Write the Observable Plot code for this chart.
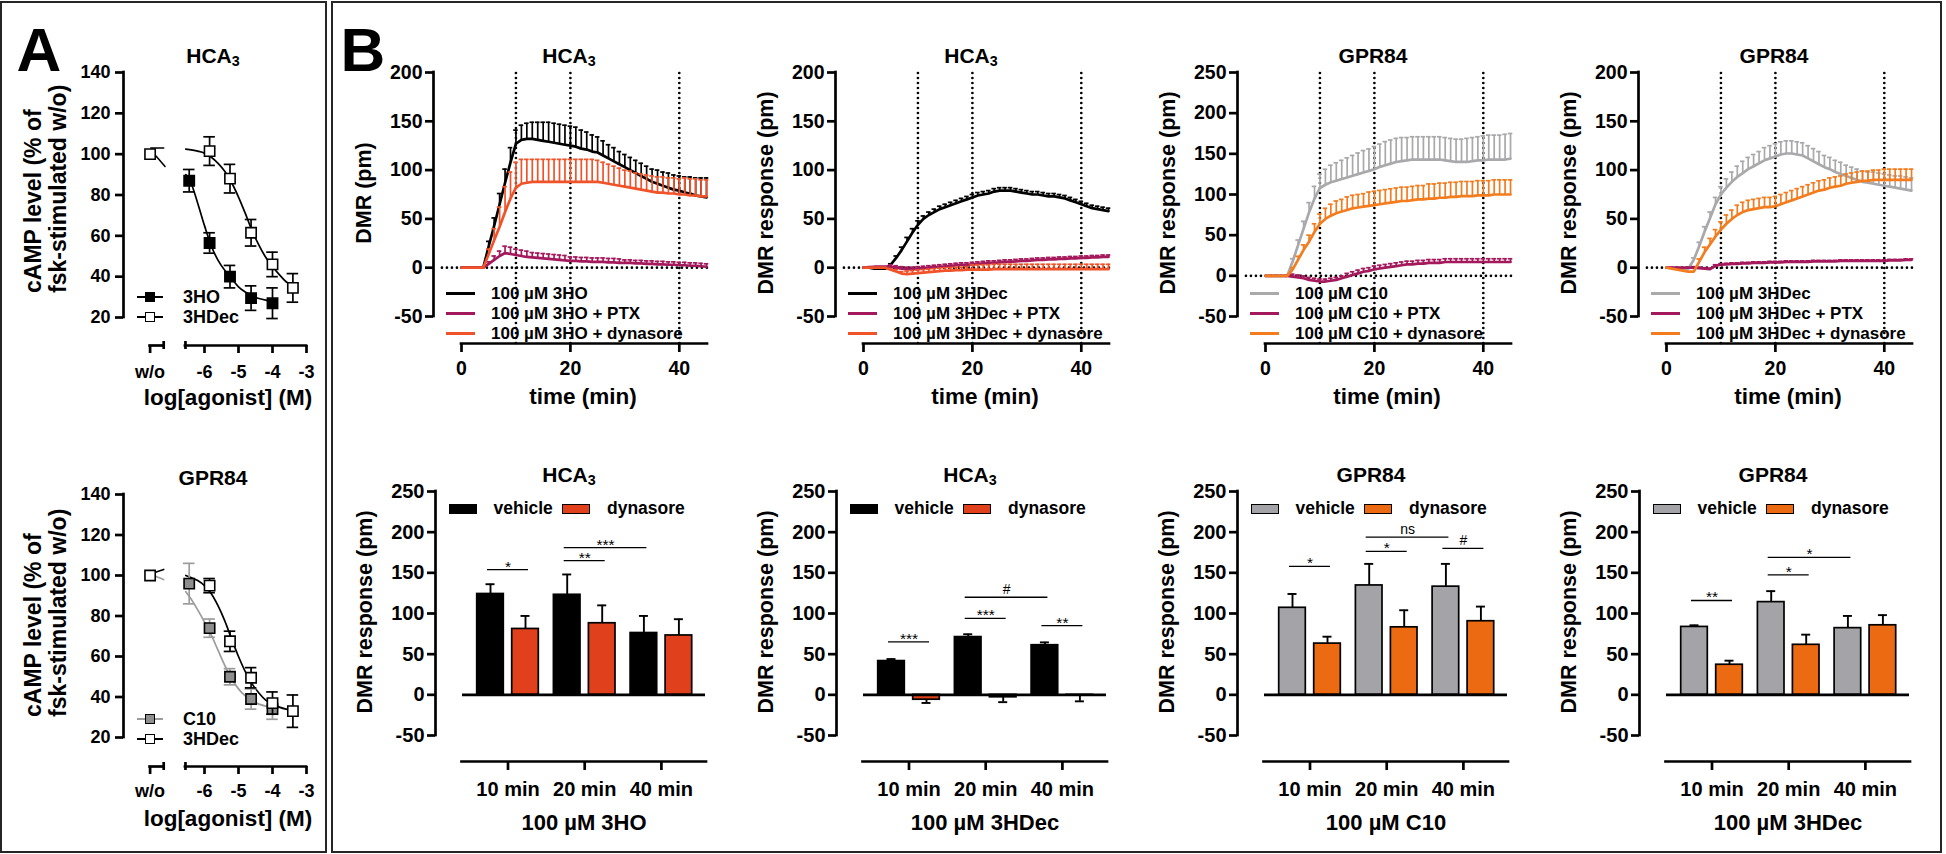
<!DOCTYPE html>
<html>
<head>
<meta charset="utf-8">
<script src="https://cdn.jsdelivr.net/npm/d3@7"></script>
<script src="https://cdn.jsdelivr.net/npm/@observablehq/plot@0.6"></script>
<style>
html,body{margin:0;padding:0;background:#fff;}
#page{position:relative;width:1946px;height:854px;overflow:hidden;background:#fff;font-family:"Liberation Sans",Arial,Helvetica,sans-serif;font-weight:bold;color:#000;}
.t{position:absolute;white-space:nowrap;line-height:1;}
</style>
</head>
<body>
<div id="page"></div>
<script>
// ===================== DATA =====================
// ---- Panel A: cAMP concentration-response (log M) ----
const woLog = -7.6;            // position used for the "w/o" point
const woValue = 100;
const doseTicks = [-6, -5, -4, -3];

const hca3_3HO_logC = [-6.45, -5.85, -5.25, -4.63, -4.0];
const hca3_3HO_cAMP = [87, 56.5, 40, 29.5, 27];
const hca3_3HO_cAMP_err = [5.5, 5, 5.5, 6, 7.5];
const hca3_3HDec_logC = [-5.85, -5.25, -4.63, -4.0, -3.4];
const hca3_3HDec_cAMP = [101.5, 88, 61.5, 46, 34.5];
const hca3_3HDec_cAMP_err = [7, 7, 6.5, 6, 7];
const hca3_3HO_fitX = [-6.55, -6.4, -6.2, -6.0, -5.8, -5.6, -5.4, -5.2, -5.0, -4.8, -4.6, -4.4, -4.2, -4.0];
const hca3_3HO_fitY = [90, 86, 76, 65, 55, 48, 43, 39, 35, 32.5, 30.5, 29.3, 28.5, 28];
const hca3_3HDec_fitX = [-6.55, -6.2, -6.0, -5.8, -5.6, -5.4, -5.2, -5.0, -4.8, -4.6, -4.4, -4.2, -4.0, -3.8, -3.6, -3.4];
const hca3_3HDec_fitY = [102.5, 101.5, 100.5, 98.5, 95.5, 91.5, 86, 79, 71, 62.5, 55.5, 49.5, 45, 41, 37.5, 35.5];
const hca3_woFitA_x = [-7.58, -7.2], hca3_woFitA_y = [103, 103];
const hca3_woFitB_x = [-7.42, -7.16], hca3_woFitB_y = [99, 94];

const gpr84_C10_logC = [-6.45, -5.85, -5.25, -4.63, -4.0];
const gpr84_C10_cAMP = [96, 74, 50, 39, 34];
const gpr84_C10_cAMP_err = [10, 4.5, 4, 5, 5];
const gpr84_3HDec_logC = [-5.85, -5.25, -4.63, -4.0, -3.4];
const gpr84_3HDec_cAMP = [95, 67.5, 49.5, 37, 33];
const gpr84_3HDec_cAMP_err = [3.5, 5, 5, 5.5, 8];
const gpr84_C10_fitX = [-6.55, -6.4, -6.2, -6.0, -5.8, -5.6, -5.4, -5.2, -5.0, -4.8, -4.6, -4.4, -4.2, -4.0];
const gpr84_C10_fitY = [92, 88.5, 83, 77, 70.5, 63, 55.5, 49, 44, 40.5, 38, 36.5, 35.5, 35];
const gpr84_3HDec_fitX = [-6.55, -6.4, -6.2, -6.0, -5.8, -5.6, -5.4, -5.2, -5.0, -4.8, -4.6, -4.4, -4.2, -4.0, -3.8, -3.6, -3.4];
const gpr84_3HDec_fitY = [100, 99, 97.5, 95, 91, 85, 77.5, 68.5, 60, 52.5, 46.5, 42, 38.5, 36.5, 35, 34, 33.5];
const gpr84_woFitA_x = [-7.55, -7.2], gpr84_woFitA_y = [101, 103];
const gpr84_woFitB_x = [-7.5, -7.2], gpr84_woFitB_y = [100, 98];

// ---- Panel B top: DMR time courses (min) ----
const timeMin = [0,1,2,3,4, 5,6,7,8,9, 10,11,12,13,14, 15,16,17,18,19, 20,21,22,23,24, 25,26,27,28,29, 30,31,32,33,34, 35,36,37,38,39, 40,41,42,43,44, 45];
const markerTimes = [10, 20, 40];

const hca3_3HO_mean = [0,0,0,0,0, 22,43,65,87,108, 127,131,132,132,131, 130,129,128,127,126, 125,124,122,121,119, 118,115,112,109,106, 103,100,97,94,91, 88,86,84,82,80, 79,77,76,74,73, 72];
const hca3_3HO_err  = [0,0,0,0,0, 5,8,11,14,15, 14,15,16,17,18, 19,20,20,20,20, 20,20,19,18,17, 16,15,14,14,13, 13,13,13,13,13, 13,14,14,15,15, 15,16,17,18,19, 20];
const hca3_3HO_ptx_mean = [0,0,0,0,0, 4,8,12,15,14, 13,12,11,10.5,10, 9.5,9,8.5,8,7.5, 7,7,6.5,6.5,6, 6,6,5.5,5.5,5, 5,5,4.5,4.5,4, 4,3.5,3.5,3,3, 2.5,2.5,2,2,1.5, 1];
const hca3_3HO_ptx_err  = [0,0,0,0,0, 2,4,5,7,7, 6,6,6,5,5, 5,5,5,5,5, 4,4,4,4,4, 4,4,4,4,4, 3,3,3,3,3, 3,3,3,3,3, 3,3,3,3,3, 3];
const hca3_3HO_dyn_mean = [0,0,0,0,0, 14,28,42,57,71, 82,86,87,88,88, 88,88,88,88,88, 88,88,88,88,88, 88,87,86,85,84, 83,82,81,80,79, 78,77,77,76,76, 75,75,74,74,73, 73];
const hca3_3HO_dyn_err  = [0,0,0,0,0, 5,12,20,26,27, 26,25,24,23,23, 23,23,23,23,23, 23,23,23,23,23, 22,21,20,19,18, 17,17,16,16,16, 16,16,16,16,16, 16,17,17,17,17, 17];

const hca3_3HDec_mean = [0,0,-1,-1,-1, 3,10,18,27,36, 44,50,54,57,60, 62,64,66,68,70, 72,74,75,76,78, 79,79,79,78,77, 76,75,75,74,73, 73,72,71,69,67, 65,63,61,60,59, 58];
const hca3_3HDec_err  = [0,0,0,0,0, 1,2,3,4,4, 4,3,3,3,3, 3,3,3,3,3, 3,3,3,3,3, 3,3,3,3,3, 3,3,3,3,3, 3,3,3,3,3, 3,3,3,3,3, 3];
const hca3_3HDec_ptx_mean = [0,0.5,1,1,1, 1,0,-1,-1.5,-1.5, -1,-0.5,0,0.5,1, 1.5,2,2.5,3,3, 3.5,4,4.5,5,5, 5.5,6,6,6.5,7, 7,7.5,8,8,8.5, 8.5,9,9,9.5,9.5, 10,10,10.5,10.5,11, 11];
const hca3_3HDec_ptx_err  = [0,0,0,0,0, 2,2,2,2,2, 2,2,2,2,2, 2,2,2,2,2, 2,2,2,2,2, 2,2,2,2,2, 2,2,2,2,2, 2,2,2,2,2, 2,2,2,2,2, 2];
const hca3_3HDec_dyn_mean = [0,0,0,0,0, -2,-4,-6,-6.5,-6, -5.5,-5,-4.5,-4,-3.5, -3,-3,-2.5,-2.5,-2, -2,-2,-2,-2,-1.5, -1.5,-1.5,-1.5,-1.5,-1.5, -1.5,-1.5,-1.5,-1.5,-1.5, -1.5,-1.5,-1.5,-1.5,-1.5, -1.5,-1.5,-1.5,-1.5,-1.5, -1.5];
const hca3_3HDec_dyn_err  = [0,0,0,0,0, 1,2,2,3,3, 3,3,3,3,3, 3,3,3,3,3, 5,5,5,5,5, 5,5,5,5,5, 5,5,5,5,5, 5,5,5,5,5, 5,5,5,5,5, 5];

const gpr84_C10_mean = [0,0,0,0,0, 18,38,58,78,95, 108,112,115,117,119, 121,123,125,127,129, 131,134,136,138,140, 141,142,143,143,143, 143,143,143,142,141, 140,140,140,141,142, 142,143,143,143,143, 144];
const gpr84_C10_err  = [0,0,0,0,0, 3,6,9,12,15, 17,19,21,22,23, 24,25,26,27,27, 28,28,29,29,29, 29,28,28,28,28, 28,28,28,28,28, 28,28,29,29,29, 30,30,30,30,31, 31];
const gpr84_C10_ptx_mean = [0,0,0,0,0, -1,-2,-3,-5,-6, -7,-7,-6,-5,-3, -1,1,3,5,6, 8,9,10,11,12, 13,14,14,15,15, 16,16,16,17,17, 17,17,17,17,17, 17,17,17,17,17, 17];
const gpr84_C10_ptx_err  = [0,0,0,0,0, 3,3,3,3,3, 3,3,3,3,3, 4,4,4,4,4, 4,4,4,4,4, 4,4,4,4,4, 4,4,4,4,4, 4,4,4,4,4, 4,4,4,4,4, 4];
const gpr84_C10_dyn_mean = [0,0,0,0,0, 8,20,32,42,54, 64,70,74,77,79, 81,83,84,85,86, 87,88,89,90,91, 92,92,93,94,94, 95,95,96,96,97, 97,98,98,98,99, 99,99,100,100,100, 100];
const gpr84_C10_dyn_err  = [0,0,0,0,0, 2,4,6,8,10, 12,13,14,15,15, 16,16,16,16,17, 17,17,17,17,17, 17,17,17,17,17, 18,18,18,18,18, 18,18,18,18,18, 18,18,18,18,18, 18];

const gpr84_3HDec_mean = [0,0,-1,-1,-1, 8,22,37,51,65, 75,82,88,93,97, 101,104,107,110,112, 114,116,117,117,116, 115,112,109,106,103, 101,98,96,94,92, 90,88,87,86,85, 84,83,82,81,80, 79];
const gpr84_3HDec_err  = [0,0,0,0,0, 2,4,5,6,7, 8,9,10,11,12, 12,12,12,13,13, 13,13,13,13,13, 13,13,13,13,12, 12,12,12,11,11, 11,11,11,12,12, 12,12,12,13,13, 13];
const gpr84_3HDec_ptx_mean = [0,0,0,0,0, 0,-0.5,-1,-1.5,2, 3,3.5,4,4,4.5, 4.5,5,5,5,5.5, 5.5,5.5,6,6,6, 6,6,6.5,6.5,6.5, 6.5,6.5,7,7,7, 7,7,7,7,7, 7,7.5,7.5,7.5,8, 8];
const gpr84_3HDec_ptx_err  = [0,0,0,0,0, 1,1,1,1,1, 1,1,1,1,1, 1,1,1,1,1, 1,1,1,1,1, 1,1,1,1,1, 1,1,1,1,1, 1,1,1,1,1, 1,1,1,1,1, 1];
const gpr84_3HDec_dyn_mean = [0,-1,-2,-3,-4, -4,6,16,24,32, 39,45,50,54,57, 59,60,61,62,62, 63,65,67,69,71, 73,75,77,79,80, 82,83,84,86,87, 88,89,89,90,90, 90,90,90,90,90, 90];
const gpr84_3HDec_dyn_err  = [0,0,0,0,0, 0,3,5,6,7, 8,9,9,10,10, 10,10,10,10,10, 10,10,10,10,10, 10,10,10,10,10, 10,10,10,10,10, 10,10,10,10,10, 11,11,11,11,11, 11];

// ---- Panel B bottom: DMR response at 10/20/40 min ----
const barTimes = ["10 min", "20 min", "40 min"];
const barHca3_3HO_vehicle = [124, 123, 76], barHca3_3HO_vehicle_err = [12, 25, 21];
const barHca3_3HO_dynasore = [81, 88, 73], barHca3_3HO_dynasore_err = [16, 22, 20];
const barHca3_3HDec_vehicle = [41.5, 71, 61], barHca3_3HDec_vehicle_err = [2.5, 3.5, 3.5];
const barHca3_3HDec_dynasore = [-6, -3, -1], barHca3_3HDec_dynasore_err = [4, 6, 7];
const barGpr84_C10_vehicle = [107, 134.5, 133], barGpr84_C10_vehicle_err = [17, 26.5, 28];
const barGpr84_C10_dynasore = [63, 83, 90.5], barGpr84_C10_dynasore_err = [8.5, 21, 18];
const barGpr84_3HDec_vehicle = [83.5, 114, 82], barGpr84_3HDec_vehicle_err = [2, 13.5, 15];
const barGpr84_3HDec_dynasore = [37, 61.5, 85.5], barGpr84_3HDec_dynasore_err = [5, 12.5, 12.5];

// significance brackets: [time index, group] -> [time index, group], height, label
const sigHca3_3HO = [
  {a: [0, "vehicle"], b: [0, "dynasore"], y: 154, label: "*"},
  {a: [1, "vehicle"], b: [1, "dynasore"], y: 165, label: "**"},
  {a: [1, "vehicle"], b: [2, "vehicle"], y: 181, label: "***"}
];
const sigHca3_3HDec = [
  {a: [0, "vehicle"], b: [0, "dynasore"], y: 65, label: "***"},
  {a: [1, "vehicle"], b: [1, "dynasore"], y: 94, label: "***"},
  {a: [1, "vehicle"], b: [2, "vehicle"], y: 120, label: "#"},
  {a: [2, "vehicle"], b: [2, "dynasore"], y: 85, label: "**"}
];
const sigGpr84_C10 = [
  {a: [0, "vehicle"], b: [0, "dynasore"], y: 158, label: "*"},
  {a: [1, "vehicle"], b: [1, "dynasore"], y: 176.5, label: "*"},
  {a: [1, "vehicle"], b: [2, "vehicle"], y: 194, label: "ns"},
  {a: [2, "vehicle"], b: [2, "dynasore"], y: 180, label: "#"}
];
const sigGpr84_3HDec = [
  {a: [0, "vehicle"], b: [0, "dynasore"], y: 116, label: "**"},
  {a: [1, "vehicle"], b: [1, "dynasore"], y: 147.5, label: "*"},
  {a: [1, "vehicle"], b: [2, "vehicle"], y: 169, label: "*"}
];

// ===================== STYLE / LAYOUT =====================
const page = document.getElementById("page");
const FONT = '"Liberation Sans", Arial, Helvetica, sans-serif';
const C = {
  black: "#000000", magenta: "#A3195B", redOrange: "#F0532A", redBar: "#E0401C",
  greyLine: "#A9A9AC", greyBar: "#A4A4A8", orangeLine: "#F27C1E", orangeBar: "#EB6A12",
  greyDot: "#8E8E8E", greyErr: "#9C9C9C"
};
const AXW = 2.7;

function text(html, x, y, size, o = {}) {
  const d = document.createElement("div");
  d.className = "t";
  d.style.fontSize = size + "px";
  d.style.left = x + "px";
  d.style.top = y + "px";
  d.style.fontWeight = o.weight || "bold";
  let tf = o.start ? "translate(0,-50%)" : "translate(-50%,-50%)";
  if (o.rotate) tf += " rotate(-90deg)";
  d.style.transform = tf;
  d.innerHTML = html;
  page.appendChild(d);
  return d;
}
function box(css) {
  const d = document.createElement("div");
  d.style.position = "absolute";
  Object.assign(d.style, css);
  page.appendChild(d);
  return d;
}
function place(svg, left, top, w) {
  const d = document.createElement("div");
  d.style.position = "absolute";
  d.style.left = left + "px";
  d.style.top = top + "px";
  d.style.width = w + "px";
  d.appendChild(svg);
  page.appendChild(d);
}
function basePlot(opts) {
  return Plot.plot(Object.assign({
    style: {fontFamily: FONT, fontWeight: "bold", background: "transparent", overflow: "visible", color: "#000"}
  }, opts));
}
const sub3 = 'HCA<span style="font-size:0.68em;position:relative;top:0.2em">3</span>';

// panel frames
box({left: "0px", top: "1px", width: "327px", height: "852px", border: "2px solid #262626", boxSizing: "border-box"});
box({left: "331px", top: "1px", width: "1611px", height: "852px", border: "2px solid #262626", boxSizing: "border-box"});
text("A", 39, 50, 62);
text("B", 363, 50, 62);

// ===================== PANEL A =====================
function dosePlot(ax, topPx, botPx, xAxisPx, sets, woFits, tickPad) {
  const ppx = 34, xm6 = 204;
  const xLo = -6 + (ax - xm6) / ppx, xHi = -3 + 3 / ppx;
  const ppu = (botPx - topPx) / 120;
  const yLo = 20 - (xAxisPx - botPx) / ppu;
  const mL = 60, mR = 10, mT = 12, mB = 45;
  const fw = (xm6 + 3 * ppx + 3) - ax;
  const W = mL + fw + mR, H = mT + (xAxisPx - topPx) + mB;
  const woSegEnd = -7.2, mainStart = -6.56;
  const marks = [];
  for (const f of woFits) {
    marks.push(Plot.line(f.x.map((x, i) => ({x, y: f.y[i]})), {x: "x", y: "y", stroke: f.color, strokeWidth: 1.6}));
  }
  for (const s of sets) {
    marks.push(Plot.line(s.fitX.map((x, i) => ({x, y: s.fitY[i]})), {x: "x", y: "y", stroke: s.line, strokeWidth: 1.7, curve: "monotone-x"}));
  }
  for (const s of sets) {
    const rows = s.x.map((x, i) => ({x, y: s.y[i], e: s.err[i]}));
    marks.push(
      Plot.ruleX(rows, {x: "x", y1: r => r.y - r.e, y2: r => r.y + r.e, stroke: s.errColor, strokeWidth: 1.7}),
      Plot.ruleY(rows, {y: r => r.y + r.e, x1: r => r.x - 0.17, x2: r => r.x + 0.17, stroke: s.errColor, strokeWidth: 1.7}),
      Plot.ruleY(rows, {y: r => r.y - r.e, x1: r => r.x - 0.17, x2: r => r.x + 0.17, stroke: s.errColor, strokeWidth: 1.7}),
      Plot.dot(rows, {x: "x", y: "y", symbol: "square", r: 5.8, fill: s.fill, stroke: "#000", strokeWidth: 1.6})
    );
  }
  marks.push(
    Plot.dot([{x: woLog, y: woValue}], {x: "x", y: "y", symbol: "square", r: 5.8, fill: "#fff", stroke: "#000", strokeWidth: 1.6}),
    Plot.ruleX([xLo], {y1: 20, y2: 140, strokeWidth: AXW, strokeLinecap: "square"}),
    Plot.ruleY([yLo], {x1: woLog, x2: woSegEnd, strokeWidth: AXW, strokeLinecap: "square"}),
    Plot.ruleY([yLo], {x1: mainStart, x2: -3, strokeWidth: AXW, strokeLinecap: "square"}),
    Plot.ruleX([woSegEnd, mainStart], {y1: yLo - 4 / ppu, y2: yLo + 4 / ppu, strokeWidth: AXW}),
    Plot.axisY({ticks: [20, 40, 60, 80, 100, 120, 140], tickFormat: d => String(d), tickSize: 8, tickPadding: 5, strokeWidth: AXW, fontSize: 18, fontWeight: "bold"}),
    Plot.axisX({ticks: [woLog, ...doseTicks], tickFormat: d => d === woLog ? "w/o" : String(d), tickSize: 8, tickPadding: tickPad, strokeWidth: AXW, fontSize: 18, fontWeight: "bold"})
  );
  const svg = basePlot({
    width: W, height: H, marginLeft: mL, marginRight: mR, marginTop: mT, marginBottom: mB,
    x: {domain: [xLo, xHi], label: null}, y: {domain: [yLo, 140], label: null},
    marks
  });
  place(svg, ax - mL, topPx - mT, W);
}

dosePlot(123, 72, 317, 345, [
  {x: hca3_3HO_logC, y: hca3_3HO_cAMP, err: hca3_3HO_cAMP_err, fitX: hca3_3HO_fitX, fitY: hca3_3HO_fitY, fill: "#000", line: "#000", errColor: "#000"},
  {x: hca3_3HDec_logC, y: hca3_3HDec_cAMP, err: hca3_3HDec_cAMP_err, fitX: hca3_3HDec_fitX, fitY: hca3_3HDec_fitY, fill: "#fff", line: "#000", errColor: "#000"}
], [
  {x: hca3_woFitA_x, y: hca3_woFitA_y, color: "#000"},
  {x: hca3_woFitB_x, y: hca3_woFitB_y, color: "#000"}
], 12);

dosePlot(123, 494, 737, 766, [
  {x: gpr84_C10_logC, y: gpr84_C10_cAMP, err: gpr84_C10_cAMP_err, fitX: gpr84_C10_fitX, fitY: gpr84_C10_fitY, fill: C.greyDot, line: C.greyErr, errColor: C.greyErr},
  {x: gpr84_3HDec_logC, y: gpr84_3HDec_cAMP, err: gpr84_3HDec_cAMP_err, fitX: gpr84_3HDec_fitX, fitY: gpr84_3HDec_fitY, fill: "#fff", line: "#000", errColor: "#000"}
], [
  {x: gpr84_woFitA_x, y: gpr84_woFitA_y, color: "#000"},
  {x: gpr84_woFitB_x, y: gpr84_woFitB_y, color: C.greyErr}
], 10);

// Panel A texts
text(sub3, 213, 55, 21);
text("GPR84", 213, 477, 21);
for (const startY of [293, 717]) {
  const d = document.createElement("div");
  d.className = "t";
  Object.assign(d.style, {left: "20.5px", top: startY + "px", fontSize: "23px", lineHeight: "25px", transformOrigin: "0 0", transform: "rotate(-90deg)", textAlign: "left"});
  d.innerHTML = "cAMP level (% of<br>fsk-stimulated w/o)";
  page.appendChild(d);
}
text("log[agonist] (M)", 228, 398, 22.5);
text("log[agonist] (M)", 228, 819, 22.5);
function doseLegend(y, label, fill, lineColor) {
  box({left: "137px", top: (y - 1) + "px", width: "26px", height: "2px", background: lineColor});
  box({left: "145px", top: (y - 5) + "px", width: "10px", height: "10px", background: fill, border: "1.6px solid #000", boxSizing: "border-box"});
  text(label, 183, y, 18, {start: true});
}
doseLegend(297, "3HO", "#000", "#000");
doseLegend(317, "3HDec", "#fff", "#000");
doseLegend(719, "C10", C.greyDot, C.greyErr);
doseLegend(739, "3HDec", "#fff", "#000");

// ===================== PANEL B TOP: time courses =====================
function timeCourse(ax, yMax, yTicks, series) {
  const topPx = 72, m50Px = 316, xAxisPx = 343;
  const ppu = (m50Px - topPx) / (yMax + 50);
  const yLo = -50 - (xAxisPx - m50Px) / ppu;
  const ppm = 5.445, zeroOff = 28, frameW = 274;
  const xLo = -zeroOff / ppm, xHi = (frameW - zeroOff) / ppm;
  const mL = 60, mR = 12, mT = 12, mB = 45;
  const W = mL + frameW + mR, H = mT + (xAxisPx - topPx) + mB;
  const dotted = {stroke: "#000", strokeWidth: 2.7, strokeDasharray: "0 5", strokeLinecap: "round"};
  const marks = [
    Plot.ruleX(markerTimes, {y1: yLo, y2: yMax, ...dotted}),
    Plot.ruleY([0], {x1: -3.5, x2: xHi, ...dotted})
  ];
  for (const s of series) {
    const rows = timeMin.map((t, i) => ({t, m: s.mean[i], e: s.err[i]}));
    const eb = rows.filter(r => r.e > 0);
    marks.push(
      Plot.ruleX(eb, {x: "t", y1: "m", y2: r => r.m + r.e, stroke: s.color, strokeWidth: 1.7}),
      Plot.ruleY(eb, {y: r => r.m + r.e, x1: r => r.t - 0.42, x2: r => r.t + 0.42, stroke: s.color, strokeWidth: 1.7}),
      Plot.line(rows, {x: "t", y: "m", stroke: s.color, strokeWidth: 2.7})
    );
  }
  marks.push(
    Plot.ruleX([xLo], {y1: -50, y2: yMax, strokeWidth: AXW, strokeLinecap: "square"}),
    Plot.ruleY([yLo], {x1: 0, x2: xHi, strokeWidth: AXW, strokeLinecap: "square"}),
    Plot.axisY({ticks: yTicks, tickFormat: d => String(d), tickSize: 8, tickPadding: 3, strokeWidth: AXW, fontSize: 19.5, fontWeight: "bold"}),
    Plot.axisX({ticks: [0, 20, 40], tickFormat: d => String(d), tickSize: 9, tickPadding: 9, strokeWidth: AXW, fontSize: 19.5, fontWeight: "bold"})
  );
  const svg = basePlot({
    width: W, height: H, marginLeft: mL, marginRight: mR, marginTop: mT, marginBottom: mB,
    x: {domain: [xLo, xHi], label: null}, y: {domain: [yLo, yMax], label: null},
    marks
  });
  place(svg, ax - mL, topPx - mT, W);
}

const timeAxes = [433, 835, 1237, 1638];
const ticks200 = [-50, 0, 50, 100, 150, 200];
const ticks250 = [-50, 0, 50, 100, 150, 200, 250];

timeCourse(timeAxes[0], 200, ticks200, [
  {mean: hca3_3HO_mean, err: hca3_3HO_err, color: C.black},
  {mean: hca3_3HO_ptx_mean, err: hca3_3HO_ptx_err, color: C.magenta},
  {mean: hca3_3HO_dyn_mean, err: hca3_3HO_dyn_err, color: C.redOrange}
]);
timeCourse(timeAxes[1], 200, ticks200, [
  {mean: hca3_3HDec_mean, err: hca3_3HDec_err, color: C.black},
  {mean: hca3_3HDec_ptx_mean, err: hca3_3HDec_ptx_err, color: C.magenta},
  {mean: hca3_3HDec_dyn_mean, err: hca3_3HDec_dyn_err, color: C.redOrange}
]);
timeCourse(timeAxes[2], 250, ticks250, [
  {mean: gpr84_C10_mean, err: gpr84_C10_err, color: C.greyLine},
  {mean: gpr84_C10_ptx_mean, err: gpr84_C10_ptx_err, color: C.magenta},
  {mean: gpr84_C10_dyn_mean, err: gpr84_C10_dyn_err, color: C.orangeLine}
]);
timeCourse(timeAxes[3], 200, ticks200, [
  {mean: gpr84_3HDec_mean, err: gpr84_3HDec_err, color: C.greyLine},
  {mean: gpr84_3HDec_ptx_mean, err: gpr84_3HDec_ptx_err, color: C.magenta},
  {mean: gpr84_3HDec_dyn_mean, err: gpr84_3HDec_dyn_err, color: C.orangeLine}
]);

const topTitles = [sub3, sub3, "GPR84", "GPR84"];
const topYLabels = ["DMR (pm)", "DMR response (pm)", "DMR response (pm)", "DMR response (pm)"];
const legendSets = [
  [["100 µM 3HO", C.black], ["100 µM 3HO + PTX", C.magenta], ["100 µM 3HO + dynasore", C.redOrange]],
  [["100 µM 3HDec", C.black], ["100 µM 3HDec + PTX", C.magenta], ["100 µM 3HDec + dynasore", C.redOrange]],
  [["100 µM C10", C.greyLine], ["100 µM C10 + PTX", C.magenta], ["100 µM C10 + dynasore", C.orangeLine]],
  [["100 µM 3HDec", C.greyLine], ["100 µM 3HDec + PTX", C.magenta], ["100 µM 3HDec + dynasore", C.orangeLine]]
];
timeAxes.forEach((ax, k) => {
  text(topTitles[k], ax + 136, 55, 21);
  text(topYLabels[k], ax - 68, 193, 21.5, {rotate: true});
  text("time (min)", ax + 150, 397, 22.5);
  legendSets[k].forEach(([lab, col], i) => {
    const y = 293 + 20 * i;
    box({left: (ax + 13) + "px", top: (y - 1.5) + "px", width: "29px", height: "3px", background: col});
    text(lab, ax + 58, y, 17, {start: true});
  });
});

// ===================== PANEL B BOTTOM: bar charts =====================
function barChart(ax, veh, vehErr, dyn, dynErr, vehColor, dynColor, sig) {
  const topPx = 491, m50Px = 735, xAxisPx = 761;
  const ppu = (m50Px - topPx) / 300;
  const yLo = -50 - (xAxisPx - m50Px) / ppu;
  const gpx = 76.7, g0 = 72.5, frameW = 275;
  const xLo = -g0 / gpx, xHi = (frameW - g0) / gpx;
  const off = 17.5 / gpx, hw = 13.3 / gpx, cap = 4.5 / gpx, ext = 3 / gpx;
  const mL = 60, mR = 12, mT = 12, mB = 45;
  const W = mL + frameW + mR, H = mT + (xAxisPx - topPx) + mB;
  const pos = ([i, c]) => i + (c === "vehicle" ? -off : off);
  const vRows = veh.map((m, i) => ({x: i - off, m, e: vehErr[i]}));
  const dRows = dyn.map((m, i) => ({x: i + off, m, e: dynErr[i]}));
  const all = vRows.concat(dRows);
  const tip = r => r.m + (r.m < 0 ? -r.e : r.e);
  const sRows = sig.map(s => ({x1: Math.min(pos(s.a), pos(s.b)) - ext, x2: Math.max(pos(s.a), pos(s.b)) + ext, y: s.y, label: s.label}));
  const marks = [
    Plot.ruleX(all, {x: "x", y1: "m", y2: tip, strokeWidth: 1.9}),
    Plot.ruleY(all, {y: tip, x1: r => r.x - cap, x2: r => r.x + cap, strokeWidth: 1.9}),
    Plot.rect(vRows, {x1: r => r.x - hw, x2: r => r.x + hw, y1: 0, y2: "m", fill: vehColor, stroke: "#000", strokeWidth: 1.7}),
    Plot.rect(dRows, {x1: r => r.x - hw, x2: r => r.x + hw, y1: 0, y2: "m", fill: dynColor, stroke: "#000", strokeWidth: 1.7}),
    Plot.ruleY([0], {x1: (27 - g0) / gpx, x2: (270 - g0) / gpx, strokeWidth: AXW}),
    Plot.ruleY(sRows, {y: "y", x1: "x1", x2: "x2", strokeWidth: 1.3}),
    Plot.text(sRows.filter(r => r.label.includes("*")), {x: r => (r.x1 + r.x2) / 2, y: "y", text: "label", dy: -3, fontSize: 15.5, fontWeight: "normal"}),
    Plot.text(sRows.filter(r => !r.label.includes("*")), {x: r => (r.x1 + r.x2) / 2, y: "y", text: "label", dy: -8, fontSize: 14, fontWeight: "normal"}),
    Plot.ruleX([xLo], {y1: -50, y2: 250, strokeWidth: AXW, strokeLinecap: "square"}),
    Plot.ruleY([yLo], {x1: (26.5 - g0) / gpx, x2: (271 - g0) / gpx, strokeWidth: AXW, strokeLinecap: "square"}),
    Plot.axisY({ticks: ticks250, tickFormat: d => String(d), tickSize: 8, tickPadding: 3, strokeWidth: AXW, fontSize: 20, fontWeight: "bold"}),
    Plot.axisX({ticks: [0, 1, 2], tickFormat: i => barTimes[i], tickSize: 9, tickPadding: 11, strokeWidth: AXW, fontSize: 20, fontWeight: "bold"})
  ];
  const svg = basePlot({
    width: W, height: H, marginLeft: mL, marginRight: mR, marginTop: mT, marginBottom: mB,
    x: {domain: [xLo, xHi], label: null}, y: {domain: [yLo, 250], label: null},
    marks
  });
  place(svg, ax - mL, topPx - mT, W);
}

const barAxes = [435, 836, 1237, 1639];
barChart(barAxes[0], barHca3_3HO_vehicle, barHca3_3HO_vehicle_err, barHca3_3HO_dynasore, barHca3_3HO_dynasore_err, C.black, C.redBar, sigHca3_3HO);
barChart(barAxes[1], barHca3_3HDec_vehicle, barHca3_3HDec_vehicle_err, barHca3_3HDec_dynasore, barHca3_3HDec_dynasore_err, C.black, C.redBar, sigHca3_3HDec);
barChart(barAxes[2], barGpr84_C10_vehicle, barGpr84_C10_vehicle_err, barGpr84_C10_dynasore, barGpr84_C10_dynasore_err, C.greyBar, C.orangeBar, sigGpr84_C10);
barChart(barAxes[3], barGpr84_3HDec_vehicle, barGpr84_3HDec_vehicle_err, barGpr84_3HDec_dynasore, barGpr84_3HDec_dynasore_err, C.greyBar, C.orangeBar, sigGpr84_3HDec);

const botTitles = [sub3, sub3, "GPR84", "GPR84"];
const botXLabels = ["100 µM 3HO", "100 µM 3HDec", "100 µM C10", "100 µM 3HDec"];
const barColors = [[C.black, C.redBar], [C.black, C.redBar], [C.greyBar, C.orangeBar], [C.greyBar, C.orangeBar]];
barAxes.forEach((ax, k) => {
  text(botTitles[k], ax + 134, 474, 21);
  text("DMR response (pm)", ax - 69, 612, 21.5, {rotate: true});
  text(botXLabels[k], ax + 149, 823, 22);
  const [vc, dc] = barColors[k];
  box({left: (ax + 13.5) + "px", top: "504px", width: "28px", height: "10px", background: vc, border: "1.5px solid #000", boxSizing: "border-box"});
  text("vehicle", ax + 58.5, 509, 17.5, {start: true});
  box({left: (ax + 127) + "px", top: "504px", width: "28px", height: "10px", background: dc, border: "1.5px solid #000", boxSizing: "border-box"});
  text("dynasore", ax + 172, 509, 17.5, {start: true});
});
</script>
</body>
</html>
